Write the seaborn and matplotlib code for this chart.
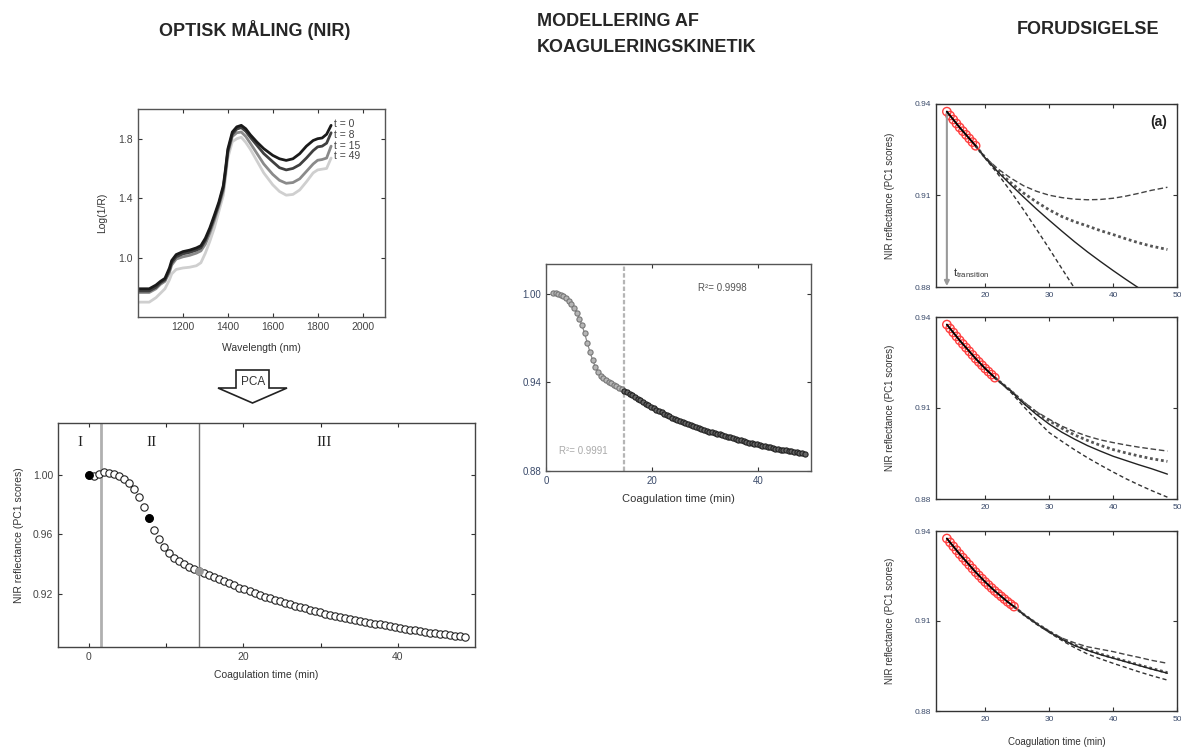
import matplotlib
matplotlib.use("Agg")
import matplotlib.pyplot as plt
from matplotlib.patches import Polygon
import seaborn as sns

sns.set_style("ticks")
plt.rcParams['font.family'] = ['Liberation Sans', 'DejaVu Sans']
plt.rcParams['mathtext.fontset'] = 'custom'
plt.rcParams['mathtext.rm'] = 'Liberation Sans'
plt.rcParams['mathtext.it'] = 'Liberation Sans'

# ---------------- data ----------------
# NIR spectra
wavelength = [1000, 1050, 1080, 1100, 1120, 1140, 1150, 1170, 1200, 1230, 1260, 1280, 1300,
              1320, 1340, 1360, 1380, 1390, 1400, 1420, 1440, 1460, 1480, 1500, 1530, 1560,
              1600, 1630, 1660, 1690, 1720, 1750, 1780, 1800, 1820, 1840, 1860]
spec_t0 = [0.79, 0.79, 0.815, 0.84, 0.86, 0.93, 0.98, 1.02, 1.04, 1.05, 1.065, 1.08, 1.13,
           1.20, 1.285, 1.373, 1.485, 1.60, 1.73, 1.845, 1.88, 1.89, 1.867, 1.827, 1.777, 1.733,
           1.688, 1.665, 1.654, 1.665, 1.699, 1.75, 1.788, 1.80, 1.805, 1.83, 1.89]
spec_t8 = [0.775, 0.775, 0.80, 0.83, 0.85, 0.915, 0.965, 1.005, 1.025, 1.035, 1.05, 1.065, 1.115,
           1.185, 1.27, 1.36, 1.47, 1.585, 1.715, 1.83, 1.865, 1.875, 1.85, 1.81, 1.755, 1.70,
           1.645, 1.605, 1.59, 1.60, 1.625, 1.67, 1.72, 1.745, 1.75, 1.77, 1.84]
spec_t15 = [0.765, 0.765, 0.79, 0.82, 0.84, 0.90, 0.95, 0.99, 1.005, 1.015, 1.03, 1.045, 1.09,
            1.165, 1.25, 1.345, 1.45, 1.57, 1.70, 1.815, 1.84, 1.845, 1.815, 1.77, 1.70, 1.63,
            1.56, 1.52, 1.50, 1.505, 1.53, 1.58, 1.63, 1.655, 1.66, 1.67, 1.75]
spec_t49 = [0.70, 0.70, 0.73, 0.76, 0.79, 0.85, 0.89, 0.92, 0.93, 0.935, 0.945, 0.965, 1.03,
            1.11, 1.20, 1.31, 1.42, 1.54, 1.67, 1.78, 1.80, 1.81, 1.775, 1.73, 1.65, 1.57,
            1.49, 1.445, 1.42, 1.425, 1.455, 1.51, 1.57, 1.59, 1.595, 1.60, 1.67]
spec_labels = ["t = 0", "t = 8", "t = 15", "t = 49"]

# PCA scores vs time
pca_time = [0.0, 0.65, 1.3, 1.95, 2.6, 3.25, 3.9, 4.55, 5.2, 5.85, 6.5, 7.15, 7.8, 8.45, 9.1,
            9.75, 10.4, 11.05, 11.7, 12.35, 13.0, 13.65, 14.3, 14.95, 15.6, 16.25, 16.9, 17.55,
            18.2, 18.85, 19.5, 20.15, 20.8, 21.45, 22.1, 22.75, 23.4, 24.05, 24.7, 25.35, 26.0,
            26.65, 27.3, 27.95, 28.6, 29.25, 29.9, 30.55, 31.2, 31.85, 32.5, 33.15, 33.8, 34.45,
            35.1, 35.75, 36.4, 37.05, 37.7, 38.35, 39.0, 39.65, 40.3, 40.95, 41.6, 42.25, 42.9,
            43.55, 44.2, 44.85, 45.5, 46.15, 46.8, 47.45, 48.1, 48.75]
pca_score = [1.000, 0.9995, 1.0003, 1.0018, 1.0015, 1.0008, 0.9995, 0.9975, 0.9945, 0.9905,
             0.985, 0.9785, 0.971, 0.963, 0.9565, 0.9515, 0.9475, 0.9443, 0.9418, 0.9398, 0.9382,
             0.9368, 0.9355, 0.9340, 0.9325, 0.9311, 0.9297, 0.9283, 0.9269, 0.9255, 0.9241,
             0.9228, 0.9215, 0.9203, 0.9191, 0.9180, 0.9169, 0.9158, 0.9148, 0.9139, 0.9129,
             0.9119, 0.9109, 0.9100, 0.9091, 0.9082, 0.9073, 0.9065, 0.9057, 0.9050, 0.9043,
             0.9036, 0.9029, 0.9022, 0.9016, 0.9010, 0.9004, 0.8998, 0.8992, 0.8986, 0.8980,
             0.8974, 0.8968, 0.8962, 0.8957, 0.8952, 0.8947, 0.8942, 0.8937, 0.8933, 0.8929,
             0.8925, 0.8921, 0.8917, 0.8913, 0.8909]
pca_filled_time = [0.0, 7.8]
pca_filled_score = [1.000, 0.971]
pca_gray_time = [14.3]
pca_gray_score = [0.9355]
phase_lines = [1.6, 14.3]
phase_names = ["I", "II", "III"]
phase_pos = [-1.2, 8.1, 30.5]

# kinetic model fit
model_time = [1.3, 1.8, 2.3, 2.8, 3.3, 3.8, 4.3, 4.8, 5.3, 5.8, 6.3, 6.8, 7.3, 7.8, 8.3, 8.8,
              9.3, 9.8, 10.3, 10.8, 11.3, 11.8, 12.3, 12.8, 13.3, 13.8, 14.3, 14.8, 15.3, 15.8,
              16.3, 16.8, 17.3, 17.8, 18.3, 18.8, 19.3, 19.8, 20.3, 20.8, 21.3, 21.8, 22.3, 22.8,
              23.3, 23.8, 24.3, 24.8, 25.3, 25.8, 26.3, 26.8, 27.3, 27.8, 28.3, 28.8, 29.3, 29.8,
              30.3, 30.8, 31.3, 31.8, 32.3, 32.8, 33.3, 33.8, 34.3, 34.8, 35.3, 35.8, 36.3, 36.8,
              37.3, 37.8, 38.3, 38.8, 39.3, 39.8, 40.3, 40.8, 41.3, 41.8, 42.3, 42.8, 43.3, 43.8,
              44.3, 44.8, 45.3, 45.8, 46.3, 46.8, 47.3, 47.8, 48.3, 48.8]
model_score = [1.0007, 1.0005, 1.0000, 0.9993, 0.9985, 0.9970, 0.9950, 0.9930, 0.9905, 0.9870,
               0.9830, 0.9785, 0.9730, 0.9665, 0.9605, 0.9550, 0.9505, 0.9470, 0.9445, 0.9428,
               0.9415, 0.9404, 0.9394, 0.9384, 0.9374, 0.9364, 0.9354, 0.9344, 0.9333, 0.9322,
               0.9311, 0.9300, 0.9289, 0.9278, 0.9267, 0.9256, 0.9245, 0.9235, 0.9225, 0.9215,
               0.9205, 0.9196, 0.9187, 0.9178, 0.9169, 0.9161, 0.9153, 0.9145, 0.9137, 0.9130,
               0.9123, 0.9116, 0.9109, 0.9102, 0.9096, 0.9090, 0.9084, 0.9078, 0.9072, 0.9067,
               0.9062, 0.9057, 0.9052, 0.9047, 0.9042, 0.9037, 0.9032, 0.9027, 0.9022, 0.9017,
               0.9012, 0.9007, 0.9002, 0.8997, 0.8992, 0.8988, 0.8984, 0.8980, 0.8976, 0.8972,
               0.8968, 0.8964, 0.8960, 0.8956, 0.8952, 0.8948, 0.8945, 0.8942, 0.8939, 0.8936,
               0.8933, 0.8930, 0.8927, 0.8924, 0.8921, 0.8918]
model_transition = 14.7
r2_phase2 = "R²= 0.9991"
r2_phase3 = "R²= 0.9998"

# prediction panels: measured points used for the fit
fit_time = [14.0, 14.5, 15.0, 15.5, 16.0, 16.5, 17.0, 17.5, 18.0, 18.5, 19.0, 19.5, 20.0, 20.5,
            21.0, 21.5, 22.0, 22.5, 23.0, 23.5, 24.0, 24.5]
fit_score = [0.9375, 0.9362, 0.9349, 0.9336, 0.9323, 0.9311, 0.9299, 0.9287, 0.9275, 0.9263,
             0.9252, 0.9241, 0.9230, 0.9220, 0.9210, 0.9200, 0.9191, 0.9182, 0.9173, 0.9164,
             0.9156, 0.9148]
fit_npoints = [10, 16, 22]

# (a) extrapolations
a_time = [18.5, 20, 22, 24, 26, 28, 30, 32, 34, 36, 38, 40, 42, 44, 46, 48.5]
a_upper = [0.9263, 0.9225, 0.9187, 0.9157, 0.9132, 0.9114, 0.9101, 0.9093, 0.9088, 0.9086,
           0.9087, 0.9091, 0.9098, 0.9107, 0.9117, 0.9127]
a_dotted = [0.9263, 0.9224, 0.9180, 0.9142, 0.9108, 0.9079, 0.9053, 0.9031, 0.9014, 0.9000,
            0.8985, 0.8972, 0.8958, 0.8945, 0.8934, 0.8923]
a_solid = [0.9263, 0.9223, 0.9177, 0.9135, 0.9095, 0.9056, 0.9019, 0.8983, 0.8948, 0.8915,
           0.8884, 0.8854, 0.8825, 0.8797, 0.8770, 0.8740]
a_lower = [0.9263, 0.9222, 0.9170, 0.9113, 0.9053, 0.8990, 0.8926, 0.8860, 0.8795, 0.8730,
           0.8665, 0.8600, 0.8535, 0.8470, 0.8405, 0.8320]

# (b) extrapolations
b_time = [21.5, 24, 26, 28, 30, 32, 34, 36, 38, 40, 42, 44, 46, 48.5]
b_upper = [0.9200, 0.9158, 0.9120, 0.9088, 0.9063, 0.9040, 0.9022, 0.9007, 0.8995, 0.8986,
           0.8978, 0.8971, 0.8965, 0.8958]
b_dotted = [0.9200, 0.9157, 0.9118, 0.9085, 0.9058, 0.9033, 0.9011, 0.8993, 0.8977, 0.8963,
            0.8952, 0.8942, 0.8933, 0.8924]
b_solid = [0.9200, 0.9156, 0.9115, 0.9079, 0.9047, 0.9020, 0.8997, 0.8976, 0.8958, 0.8941,
           0.8927, 0.8913, 0.8900, 0.8882]
b_lower = [0.9200, 0.9152, 0.9105, 0.9061, 0.9019, 0.8990, 0.8962, 0.8936, 0.8912, 0.8889,
           0.8867, 0.8847, 0.8828, 0.8806]

# (c) extrapolations
c_time = [24.5, 26, 28, 30, 32, 34, 36, 38, 40, 42, 44, 46, 48.5]
c_upper = [0.9148, 0.9123, 0.9093, 0.9066, 0.9043, 0.9027, 0.9014, 0.9006, 0.8998, 0.8988,
           0.8979, 0.8969, 0.8959]
c_dotted = [0.9148, 0.9122, 0.9092, 0.9065, 0.9040, 0.9020, 0.9004, 0.8990, 0.8978, 0.8966,
            0.8954, 0.8942, 0.8928]
c_solid = [0.9148, 0.9122, 0.9091, 0.9064, 0.9039, 0.9018, 0.9002, 0.8988, 0.8976, 0.8964,
           0.8952, 0.8940, 0.8926]
c_lower = [0.9148, 0.9121, 0.9090, 0.9062, 0.9035, 0.9011, 0.8990, 0.8974, 0.8959, 0.8945,
           0.8931, 0.8918, 0.8903]

# ---------------- figure ----------------
W, H = 1181, 747
fig = plt.figure(figsize=(W / 100, H / 100), dpi=100)


def rect(x0, y0, x1, y1):
    return [x0 / W, 1 - y1 / H, (x1 - x0) / W, (y1 - y0) / H]


def style(ax, size, spine="#333333"):
    ax.tick_params(direction="in", top=True, right=True, labelsize=size,
                   length=3, width=0.8, colors="#333333", labelcolor="#444444")
    ax.tick_params(which="minor", direction="in", top=True, length=3, width=0.8)
    for s in ax.spines.values():
        s.set_visible(True)
        s.set_color(spine)
        s.set_linewidth(1.0)


def line(ax, x, y, **kw):
    sns.lineplot(x=x, y=y, ax=ax, estimator=None, sort=False, **kw)


# titles
fig.text(255 / W, 1 - 30 / H, "OPTISK MÅLING (NIR)", ha="center", va="center",
         fontsize=13, fontweight="bold")
fig.text(537 / W, 1 - 22 / H, "MODELLERING AF", ha="left", va="center",
         fontsize=13, fontweight="bold")
fig.text(537 / W, 1 - 48 / H, "KOAGULERINGSKINETIK", ha="left", va="center",
         fontsize=13, fontweight="bold")
fig.text(1088 / W, 1 - 30 / H, "FORUDSIGELSE", ha="center", va="center",
         fontsize=13, fontweight="bold")

# --- NIR spectra ---
ax1 = fig.add_axes(rect(138, 109, 385, 317))
spec_colors = ["#1a1a1a", "#404040", "#8a8a8a", "#cfcfcf"]
for vals, col in zip([spec_t49, spec_t15, spec_t8, spec_t0], spec_colors[::-1]):
    line(ax1, wavelength, vals, color=col, lw=2.0)
ax1.set_xlim(1000, 2100)
ax1.set_ylim(0.6, 2.0)
ax1.set_xticks([1200, 1400, 1600, 1800, 2000])
ax1.set_yticks([1.0, 1.4, 1.8])
ax1.set_yticklabels(["1.0", "1.4", "1.8"])
ax1.set_xlabel("Wavelength (nm)", fontsize=7.5, color="#333333", labelpad=8)
ax1.set_ylabel("Log(1/R)", fontsize=7.5, color="#333333", labelpad=8)
style(ax1, 7.5, "#555555")
for lab, yv in zip(spec_labels, [1.90, 1.826, 1.753, 1.685]):
    ax1.text(1875, yv, lab, fontsize=7.5, color="#444444", va="center")

# PCA arrow
arrow_px = [(236, 370), (269, 370), (269, 388), (287, 388), (252.5, 403), (218, 388), (236, 388)]
fig.patches.append(Polygon([(x / W, 1 - y / H) for x, y in arrow_px], closed=True,
                           transform=fig.transFigure, facecolor="white",
                           edgecolor="#222222", lw=1.2))
fig.text(253 / W, 1 - 382 / H, "PCA", ha="center", va="center", fontsize=8.5, color="#333333")

# --- PCA scores ---
ax2 = fig.add_axes(rect(58, 423, 475, 647))
ax2.axvline(phase_lines[0], color="#b0b0b0", lw=2)
ax2.axvline(phase_lines[1], color="#707070", lw=1)
sns.scatterplot(x=pca_time, y=pca_score, ax=ax2, s=28, facecolor="white",
                edgecolor="#222222", linewidth=0.8, zorder=3)
sns.scatterplot(x=pca_filled_time, y=pca_filled_score, ax=ax2, s=30, color="black",
                edgecolor="black", linewidth=0.8, zorder=4)
sns.scatterplot(x=pca_gray_time, y=pca_gray_score, ax=ax2, s=28, color="#999999",
                edgecolor="#999999", linewidth=0.8, zorder=4)
for name, xp in zip(phase_names, phase_pos):
    ax2.text(xp, 1.0217, name, family="Liberation Serif", fontsize=11, ha="center",
             va="center", color="#222222")
ax2.set_xlim(-4, 50)
ax2.set_ylim(0.884, 1.035)
ax2.set_xticks([0, 20, 40])
ax2.set_xticks([10, 30], minor=True)
ax2.set_yticks([0.92, 0.96, 1.00])
ax2.set_yticklabels(["0.92", "0.96", "1.00"])
ax2.set_xlabel("Coagulation time (min)", fontsize=7.5, color="#333333", labelpad=6)
ax2.set_ylabel("NIR reflectance (PC1 scores)", fontsize=7.5, color="#333333", labelpad=6)
style(ax2, 7.5, "#444444")

# --- kinetic model ---
ax3 = fig.add_axes(rect(546, 264, 811, 471))
n2 = sum(1 for t in model_time if t < model_transition)
line(ax3, model_time[:n2 + 1], model_score[:n2 + 1], color="#8a8a8a", lw=0.9)
sns.scatterplot(x=model_time[:n2], y=model_score[:n2], ax=ax3, s=14, color="#b5b5b5",
                edgecolor="#777777", linewidth=0.8, zorder=3)
line(ax3, model_time[n2:], model_score[n2:], color="#111111", lw=0.9)
sns.scatterplot(x=model_time[n2:], y=model_score[n2:], ax=ax3, s=14, color="#666666",
                edgecolor="#222222", linewidth=0.8, zorder=3)
ax3.axvline(model_transition, color="#b5b5b5", lw=1.6, ls=(0, (2, 1)))
ax3.text(2.5, 0.8937, r2_phase2, fontsize=7, color="#aaaaaa", va="center")
ax3.text(33.3, 1.004, r2_phase3, fontsize=7, color="#555555", va="center", ha="center")
ax3.set_xlim(0, 50)
ax3.set_ylim(0.88, 1.02)
ax3.set_xticks([0, 20, 40])
ax3.set_yticks([0.88, 0.94, 1.00])
ax3.set_yticklabels(["0.88", "0.94", "1.00"])
ax3.set_xlabel("Coagulation time (min)", fontsize=8, color="#333333", labelpad=6)
style(ax3, 7, "#555555")
ax3.tick_params(labelcolor="#3a4a6a")

# --- prediction panels ---
boxes = [(104, 287), (317, 499), (531, 711)]
curves = [(a_time, a_upper, a_dotted, a_solid, a_lower),
          (b_time, b_upper, b_dotted, b_solid, b_lower),
          (c_time, c_upper, c_dotted, c_solid, c_lower)]
for i, ((y0, y1), (ct, cu, cd, cs, cl), npts) in enumerate(zip(boxes, curves, fit_npoints)):
    ax = fig.add_axes(rect(936, y0, 1177, y1))
    line(ax, ct, cu, color="#444444", lw=1.0, linestyle=(0, (4, 2)))
    line(ax, ct, cd, color="#555555", lw=2.0, linestyle=(0, (1, 1)))
    line(ax, ct, cs, color="#222222", lw=1.0)
    line(ax, ct, cl, color="#333333", lw=1.0, linestyle=(0, (3, 2)))
    sns.scatterplot(x=fit_time[:npts], y=fit_score[:npts], ax=ax, s=36, facecolor="none",
                    edgecolor="#ff4040", linewidth=1.0, zorder=3)
    line(ax, fit_time[:npts], fit_score[:npts], color="black", lw=1.4, zorder=4)
    ax.set_xlim(12.3, 50)
    ax.set_ylim(0.88, 0.94)
    ax.set_xticks([20, 30, 40, 50])
    ax.set_yticks([0.88, 0.91, 0.94])
    ax.set_yticklabels(["0.88", "0.91", "0.94"])
    ax.set_ylabel("NIR reflectance (PC1 scores)", fontsize=7, color="#333333", labelpad=14)
    style(ax, 6, "#333333")
    ax.tick_params(labelcolor="#3a4a6a")
    if i == 0:
        ax.annotate("", xy=(fit_time[0], 0.8803), xytext=(fit_time[0], fit_score[0]),
                    arrowprops=dict(arrowstyle="-|>", color="#999999", lw=1.5,
                                    mutation_scale=7, shrinkA=0, shrinkB=0))
        ax.text(14.9, 0.8845, r"$\mathrm{t_{transition}}$", fontsize=8, color="#333333",
                va="center")
        ax.text(0.96, 0.90, "(a)", transform=ax.transAxes, fontsize=10, fontweight="bold",
                ha="right", va="center", color="#222222")
    if i == 2:
        ax.set_xlabel("Coagulation time (min)", fontsize=7, color="#333333", labelpad=10)

fig.savefig("out.png", dpi=100)
